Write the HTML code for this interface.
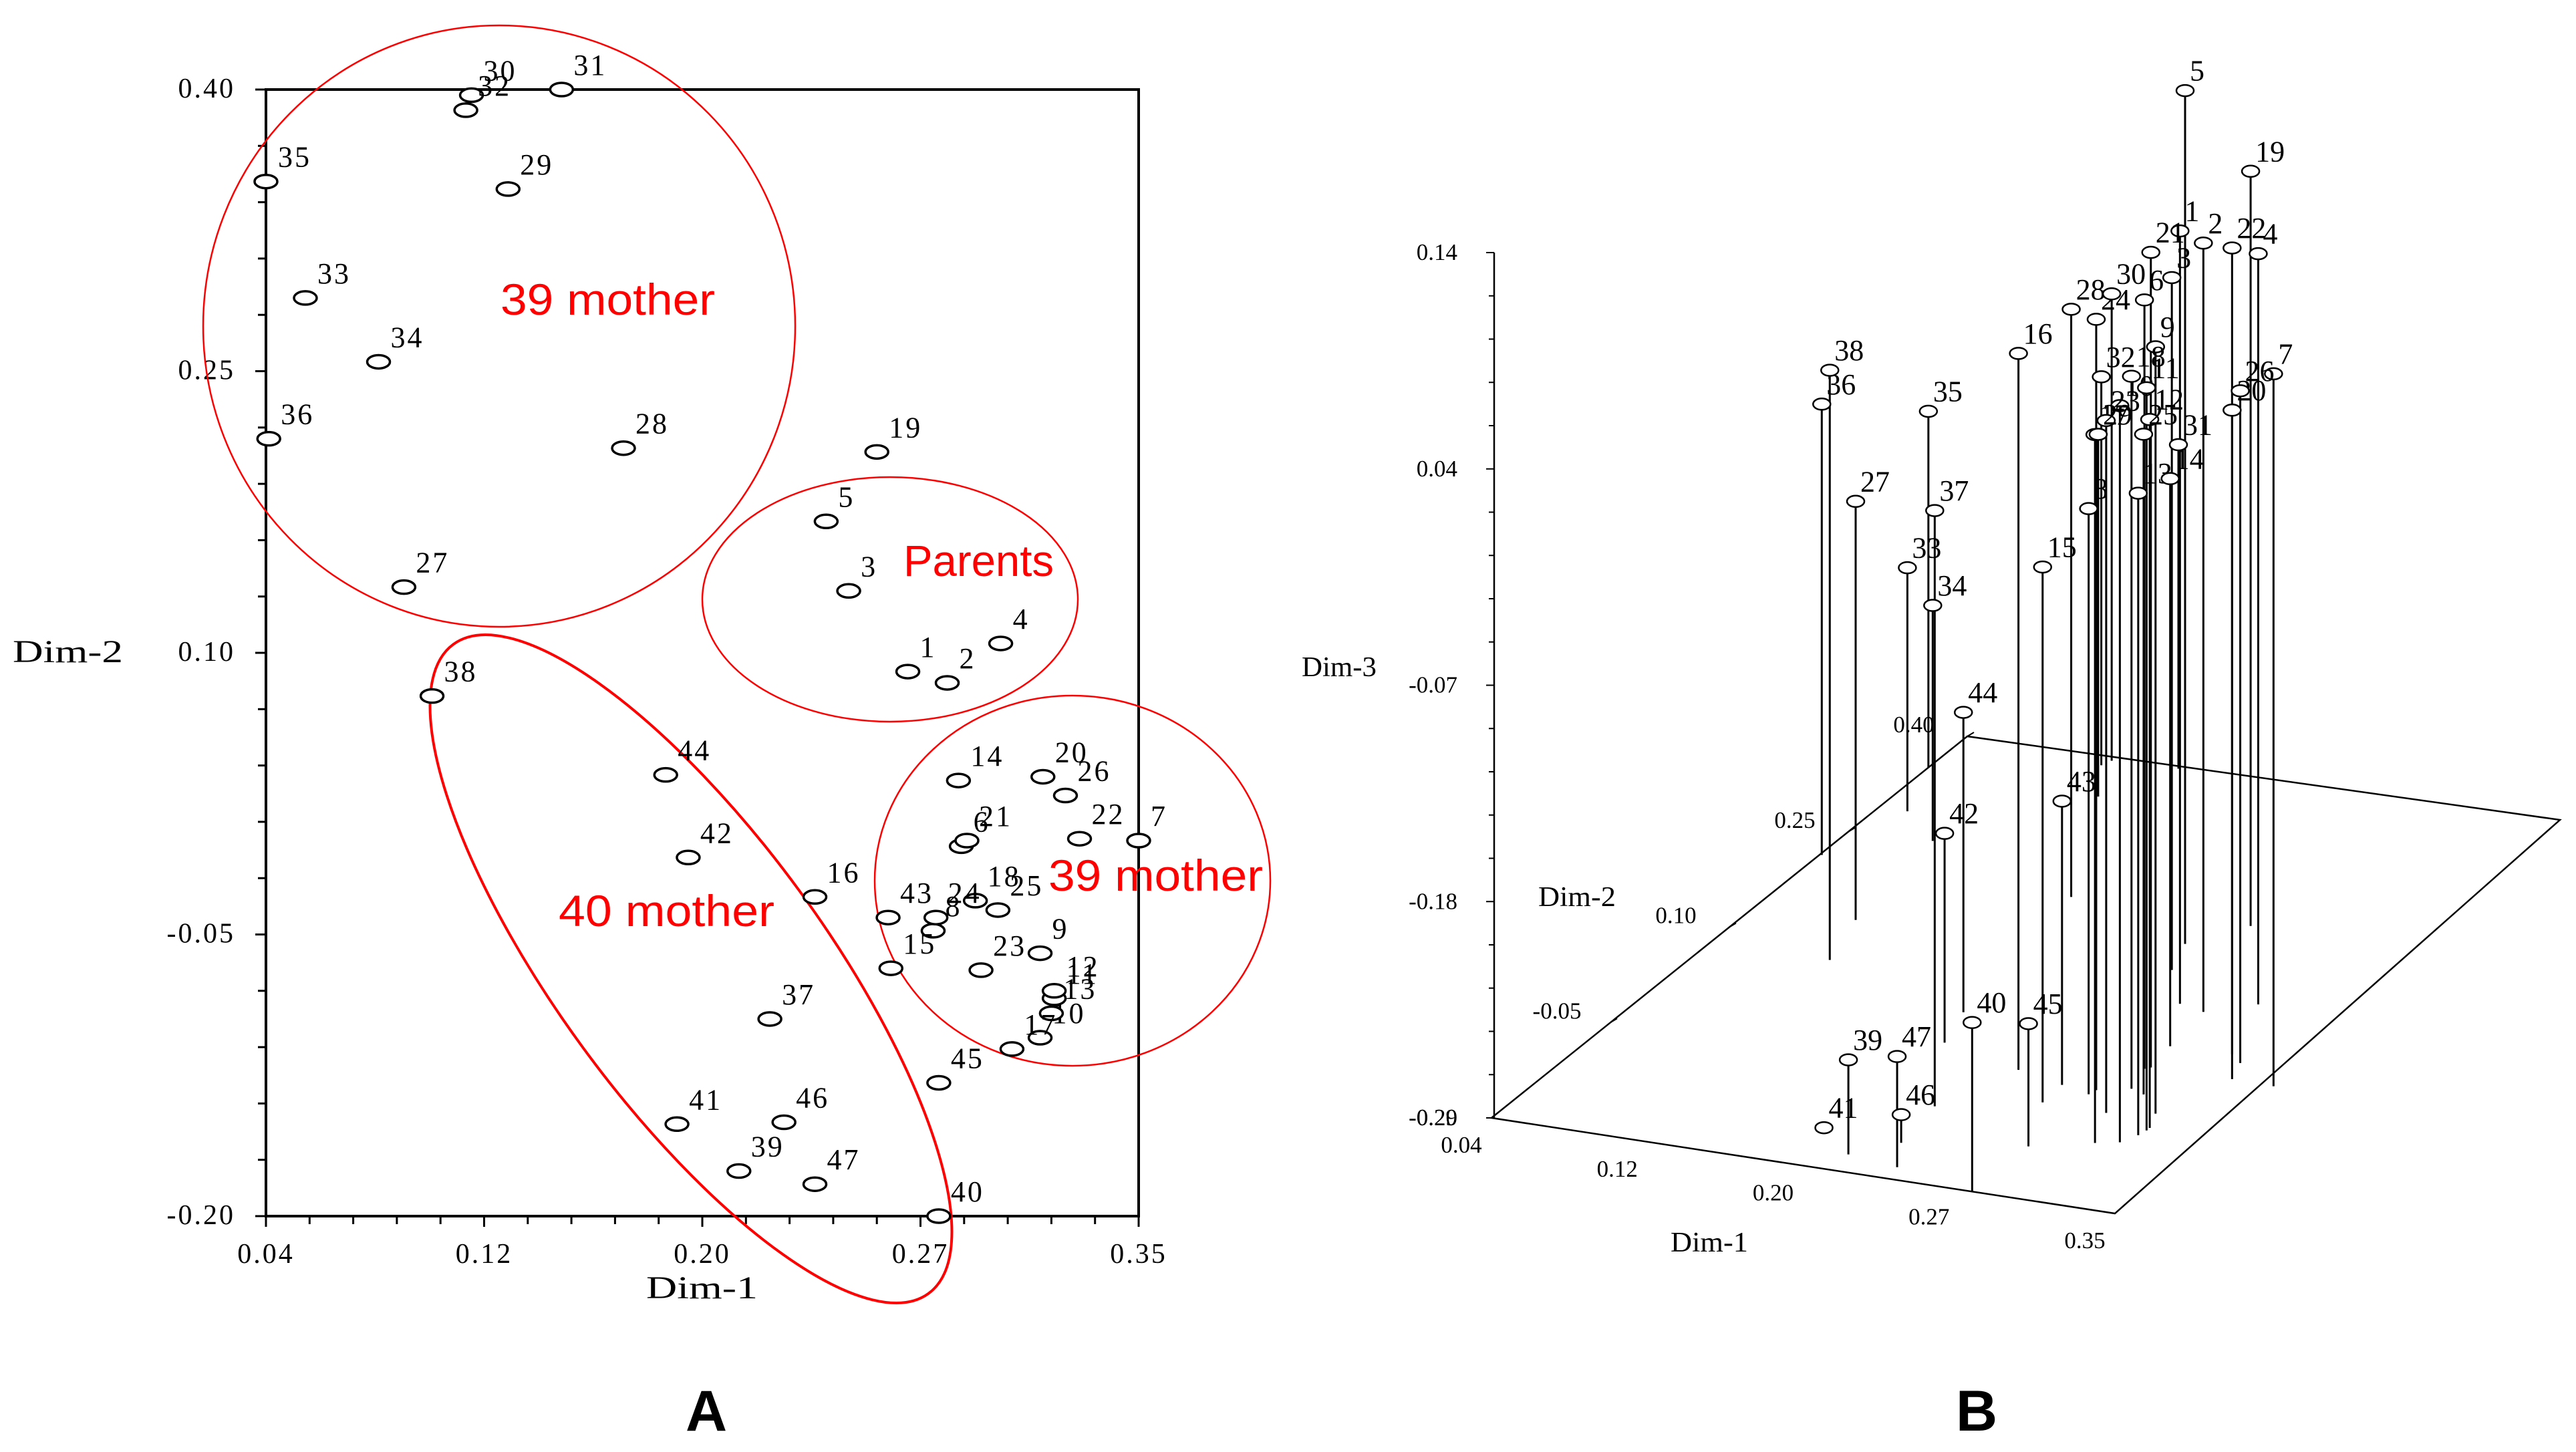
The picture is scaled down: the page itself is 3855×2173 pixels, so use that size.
<!DOCTYPE html>
<html><head><meta charset="utf-8">
<style>
html,body{margin:0;padding:0;background:#fff;}
svg{display:block;}
.serif{font-family:"Liberation Serif",serif;}
.sans{font-family:"Liberation Sans",sans-serif;}
</style></head>
<body>
<svg id="fig" width="3855" height="2173" viewBox="0 0 3855 2173" xmlns="http://www.w3.org/2000/svg">
  <rect x="0" y="0" width="3855" height="2173" fill="#fff"/>
  <g id="panelA"></g>
  <g id="panelB"></g>
</svg>
<script>
// ---- data ----
const ids = [1,2,3,4,5,6,7,8,9,10,11,12,13,14,15,16,17,18,19,20,21,22,23,24,25,26,27,28,29,30,31,32,33,34,35,36,37,38,39,40,41,42,43,44,45,46,47];
const dim1 = [0.268,0.282,0.247,0.301,0.239,0.287,0.350,0.277,0.315,0.315,0.320,0.320,0.319,0.286,0.262,0.235,0.305,0.292,0.257,0.316,0.289,0.329,0.294,0.278,0.300,0.324,0.089,0.167,0.126,0.113,0.145,0.111,0.054,0.080,0.040,0.041,0.219,0.099,0.208,0.279,0.186,0.190,0.261,0.182,0.279,0.224,0.235];
const dim2 = [0.090,0.084,0.133,0.105,0.170,-0.003,0.000,-0.048,-0.060,-0.105,-0.084,-0.080,-0.092,0.032,-0.068,-0.030,-0.111,-0.032,0.207,0.034,0.000,0.001,-0.069,-0.041,-0.037,0.024,0.135,0.209,0.347,0.397,0.400,0.389,0.289,0.255,0.351,0.214,-0.095,0.077,-0.176,-0.200,-0.151,-0.009,-0.041,0.035,-0.129,-0.150,-0.183];
const dim3 = [0.094,0.092,0.054,0.083,0.134,0.092,0.064,0.001,0.091,0.076,0.079,0.062,0.029,-0.008,-0.024,0.066,0.062,0.064,0.085,0.030,0.115,0.123,0.054,0.093,0.038,0.044,-0.082,0.002,-0.110,-0.058,-0.129,-0.097,-0.169,-0.173,-0.113,-0.066,0.006,0.003,-0.243,-0.206,-0.288,-0.186,-0.149,-0.141,-0.229,-0.276,-0.235];
const xTicksA = ["0.04","0.12","0.20","0.27","0.35"];
const yTicksA = ["0.40","0.25","0.10","-0.05","-0.20"];
const zTicksB = ["0.14","0.04","-0.07","-0.18","-0.29"];
const d2TicksB = ["-0.20","-0.05","0.10","0.25","0.40"];

const NS = "http://www.w3.org/2000/svg";
function mk(parent, tag, attrs, text){
  const e = document.createElementNS(NS, tag);
  for (const k in attrs) e.setAttribute(k, attrs[k]);
  if (text !== undefined) e.textContent = text;
  parent.appendChild(e);
  return e;
}
const A = document.getElementById('panelA');
const B = document.getElementById('panelB');

// ---- Panel A scales ----
const AX0=398, AX1=1704, AY0=134, AY1=1820;
const xA = v => AX0 + (v-0.04)/0.31*(AX1-AX0);
const yA = v => AY0 + (0.40-v)/0.60*(AY1-AY0);

let fr = mk(A,'rect',{x:AX0,y:AY0,width:AX1-AX0,height:AY1-AY0,fill:'none',stroke:'#000','stroke-width':4});


for (let i=0;i<=20;i++){
  const x = AX0 + i*(AX1-AX0)/20;
  const major = i%5===0;
  let t = mk(A,'line',{x1:x,y1:AY1,x2:x,y2:AY1+(major?16:12),stroke:'#000','stroke-width':3});
  
  
  const y = AY0 + i*(AY1-AY0)/20;
  let t2 = mk(A,'line',{x1:AX0-(major?16:12),y1:y,x2:AX0,y2:y,stroke:'#000','stroke-width':3});
  
  
}
xTicksA.forEach((s,i)=>{
  const x = AX0 + i*(AX1-AX0)/4;
  let t = mk(A,'text',{x:x,y:1890,'text-anchor':'middle','font-size':42,class:'serif','letter-spacing':3},s);
  
  
});
yTicksA.forEach((s,i)=>{
  const y = AY0 + i*(AY1-AY0)/4;
  let t = mk(A,'text',{x:352,y:y+12,'text-anchor':'end','font-size':42,class:'serif','letter-spacing':3},s);
  
  
});
let xt = mk(A,'text',{x:967,y:1943,'font-size':48,class:'serif',textLength:167,lengthAdjust:'spacingAndGlyphs'},'Dim-1');


let yt = mk(A,'text',{x:19,y:991,'font-size':48,class:'serif',textLength:165,lengthAdjust:'spacingAndGlyphs'},'Dim-2');



const red = '#f00';
let e1 = mk(A,'ellipse',{cx:747,cy:488,rx:443,ry:450,fill:'none',stroke:red,'stroke-width':2.5});


let e2 = mk(A,'ellipse',{cx:1332,cy:897,rx:281,ry:183,fill:'none',stroke:red,'stroke-width':2.5});


let e3 = mk(A,'ellipse',{cx:1605,cy:1318,rx:296,ry:277,fill:'none',stroke:red,'stroke-width':2.5});


let e4 = mk(A,'ellipse',{cx:1034,cy:1450,rx:602,ry:200,fill:'none',stroke:red,'stroke-width':4,transform:'rotate(53.8 1034 1450)'});


let g1 = mk(A,'text',{x:749,y:471,'font-size':66,fill:red,class:'sans',textLength:321,lengthAdjust:'spacingAndGlyphs'},'39 mother');


let g2 = mk(A,'text',{x:1352,y:862,'font-size':66,fill:red,class:'sans',textLength:225,lengthAdjust:'spacingAndGlyphs'},'Parents');


let g3 = mk(A,'text',{x:1569,y:1333,'font-size':66,fill:red,class:'sans',textLength:321,lengthAdjust:'spacingAndGlyphs'},'39 mother');


let g4 = mk(A,'text',{x:836,y:1386,'font-size':66,fill:red,class:'sans',textLength:323,lengthAdjust:'spacingAndGlyphs'},'40 mother');



ids.forEach((id,i)=>{
  const cx = xA(dim1[i]), cy = yA(dim2[i]);
  let c = mk(A,'ellipse',{cx:cx,cy:cy,rx:17,ry:10,fill:'#fff',stroke:'#000','stroke-width':3.5});
  
  
  let t = mk(A,'text',{x:cx+18,y:cy-22,'font-size':44,class:'serif','letter-spacing':3},String(id));
  
  
});
let la = mk(A,'text',{x:1057,y:2141,'text-anchor':'middle','font-size':86,'font-weight':'bold',class:'sans'},'A');



// ---- Panel B projection ----
const OX=2232, OY=1673, V1=[933,143], V2=[712,-571], ZS=3012;
const n1 = v => (v-0.04)/0.31;
const n2 = v => (v+0.20)/0.60;
const bx = (a,b) => OX + n1(a)*V1[0] + n2(b)*V2[0];
const by = (a,b) => OY + n1(a)*V1[1] + n2(b)*V2[1];
const zy = (base,c) => base - (c+0.29)*ZS;

let pl = mk(B,'polygon',{points:`${OX},${OY} 3165,1816 3831,1227 2944,1102`,fill:'none',stroke:'#000','stroke-width':2.5});


let va = mk(B,'line',{x1:2236,y1:378,x2:2236,y2:OY,stroke:'#000','stroke-width':2.5});


for (let i=0;i<=20;i++){
  const y = 378 + i*(OY-378)/20;
  const major = i%5===0;
  let t = mk(B,'line',{x1:2236-(major?12:8),y1:y,x2:2236,y2:y,stroke:'#000','stroke-width':2});
  
  
}
zTicksB.forEach((s,i)=>{
  const y = 378 + i*(OY-378)/4;
  let t = mk(B,'text',{x:2181,y:y+11,'text-anchor':'end','font-size':35,class:'serif'},s);
  
  
});
let tz2 = mk(B,'text',{x:2181,y:1684,'text-anchor':'end','font-size':35,class:'serif'},'-0.20');


xTicksA.forEach((s,i)=>{
  const f=i/4;
  let t = mk(B,'text',{x:OX+f*V1[0]-45,y:OY+f*V1[1]+52,'text-anchor':'middle','font-size':35,class:'serif'},s);
  
  
});
d2TicksB.forEach((s,i)=>{
  if(i===0) return;
  const f=i/4;
  const x=OX+f*V2[0], y=OY+f*V2[1];
  let t = mk(B,'text',{x:x-80,y:y-6,'text-anchor':'middle','font-size':35,class:'serif'},s);
  
  
  let tk = mk(B,'line',{x1:x,y1:y,x2:x+10,y2:y-6,stroke:'#000','stroke-width':2});
  
  
});
let d1t = mk(B,'text',{x:2500,y:1873,'font-size':42,class:'serif',textLength:116,lengthAdjust:'spacingAndGlyphs'},'Dim-1');


let d2t = mk(B,'text',{x:2302,y:1356,'font-size':42,class:'serif',textLength:116,lengthAdjust:'spacingAndGlyphs'},'Dim-2');


let d3t = mk(B,'text',{x:1948,y:1012,'font-size':42,class:'serif',textLength:112,lengthAdjust:'spacingAndGlyphs'},'Dim-3');



ids.forEach((id,i)=>{
  const x = bx(dim1[i],dim2[i]), b = by(dim1[i],dim2[i]);
  const y = zy(b,dim3[i]);
  let s = mk(B,'line',{x1:x,y1:y,x2:x,y2:b,stroke:'#000','stroke-width':3});
  
  
});
ids.forEach((id,i)=>{
  const x = bx(dim1[i],dim2[i]), b = by(dim1[i],dim2[i]);
  const y = zy(b,dim3[i]);
  let c = mk(B,'ellipse',{cx:x,cy:y,rx:13,ry:8.5,fill:'#fff',stroke:'#000','stroke-width':2.5});
  
  
  let t = mk(B,'text',{x:x+7,y:y-15,'font-size':44,class:'serif'},String(id));
  
  
});
let lb = mk(B,'text',{x:2958,y:2141,'text-anchor':'middle','font-size':86,'font-weight':'bold',class:'sans'},'B');


</script>
</body></html>
